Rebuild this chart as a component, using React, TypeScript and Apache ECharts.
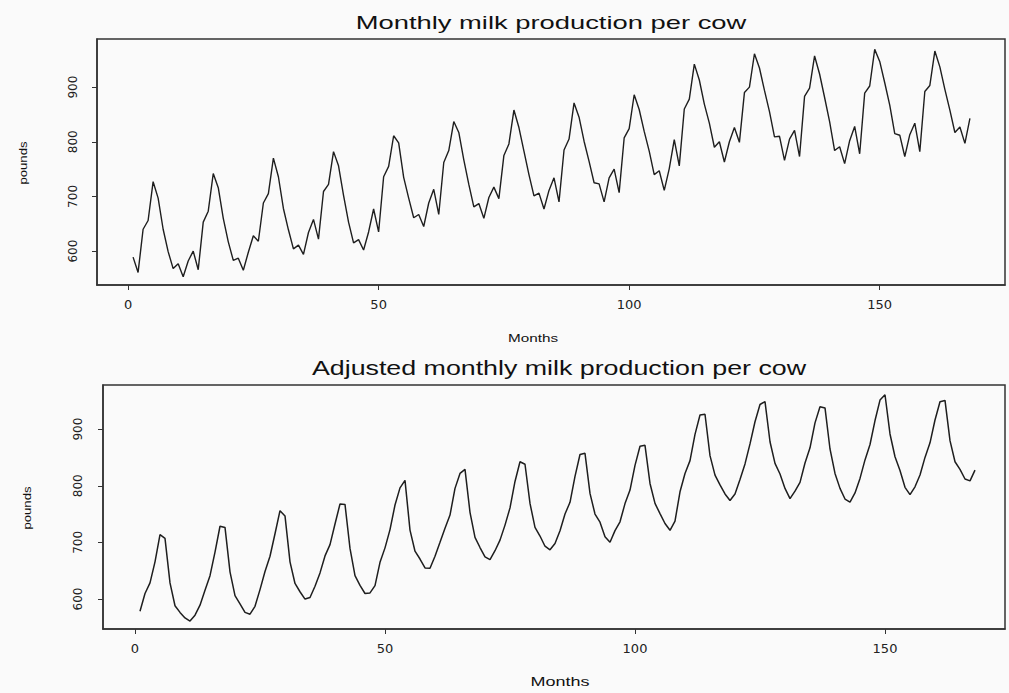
import React, { useEffect, useRef } from "react";
import * as echarts from "echarts";

// Monthly milk production per cow (pounds), months 1..168
const milk: number[] = [
  589, 561, 640, 656, 727, 697, 640, 599, 568, 577, 553, 582,
  600, 566, 653, 673, 742, 716, 660, 617, 583, 587, 565, 598,
  628, 618, 688, 705, 770, 736, 678, 639, 604, 611, 594, 634,
  658, 622, 709, 722, 782, 756, 702, 653, 615, 621, 602, 635,
  677, 635, 736, 755, 811, 798, 735, 697, 661, 667, 645, 688,
  713, 667, 762, 784, 837, 817, 767, 722, 681, 687, 660, 698,
  717, 696, 775, 796, 858, 826, 783, 740, 701, 706, 677, 711,
  734, 690, 785, 805, 871, 845, 801, 764, 725, 723, 690, 734,
  750, 707, 807, 824, 886, 859, 819, 783, 740, 747, 711, 751,
  804, 756, 860, 878, 942, 913, 869, 834, 790, 800, 763, 800,
  826, 799, 890, 900, 961, 935, 894, 855, 809, 810, 766, 805,
  821, 773, 883, 898, 957, 924, 881, 837, 784, 791, 760, 802,
  828, 778, 889, 902, 969, 947, 908, 867, 815, 812, 773, 813,
  834, 782, 892, 903, 966, 937, 896, 858, 817, 827, 797, 843,
];

// Adjusted monthly milk production per cow (pounds)
const adjusted: number[] = [
  578.3, 609.8, 628.4, 665.6, 713.8, 707.2, 628.4, 588.1, 576.3, 566.5, 561.1, 571.4,
  589.1, 615.3, 641.2, 682.8, 728.5, 726.4, 648.0, 605.8, 591.5, 576.3, 573.2, 587.1,
  616.6, 648.6, 675.5, 715.3, 756.0, 746.7, 665.7, 627.4, 612.8, 599.9, 602.7, 622.5,
  646.1, 676.1, 696.1, 732.5, 767.8, 767.0, 689.3, 641.2, 624.0, 609.7, 610.8, 623.5,
  664.7, 690.3, 722.6, 766.0, 796.3, 809.6, 721.7, 684.4, 670.6, 654.9, 654.4, 675.5,
  700.1, 725.1, 748.2, 795.4, 821.8, 828.9, 753.1, 708.9, 690.9, 674.5, 669.6, 685.3,
  704.0, 730.5, 760.9, 807.6, 842.4, 838.0, 768.8, 726.6, 711.2, 693.2, 686.9, 698.1,
  720.7, 750.1, 770.8, 816.7, 855.2, 857.3, 786.5, 750.1, 735.6, 709.9, 700.1, 720.7,
  736.4, 768.5, 792.4, 836.0, 869.9, 871.5, 804.1, 768.8, 750.8, 733.4, 721.4, 737.4,
  789.4, 821.8, 844.4, 890.8, 924.9, 926.3, 853.2, 818.9, 801.5, 785.5, 774.1, 785.5,
  811.0, 838.6, 873.9, 913.1, 943.6, 948.6, 877.8, 839.5, 820.8, 795.3, 777.2, 790.4,
  806.1, 840.3, 867.0, 911.1, 939.6, 937.5, 865.0, 821.8, 795.4, 776.6, 771.1, 787.4,
  813.0, 845.7, 872.9, 915.2, 951.4, 960.8, 891.5, 851.3, 826.9, 797.3, 784.3, 798.2,
  818.9, 850.1, 875.8, 916.2, 948.5, 950.7, 879.7, 842.4, 828.9, 812.0, 808.6, 827.7,
];

const months: number[] = milk.map((_, i) => i + 1);

const xTicks: number[] = [0, 50, 100, 150];
const yTicks: number[] = [600, 700, 800, 900];

const titleTop = "Monthly milk production per cow";
const titleBottom = "Adjusted monthly milk production per cow";
const xName = "Months";
const yName = "pounds";

const INK = "#1e1e1e";
const BG = "#fafafa";

function makeX(gridIndex: number, min: number, max: number) {
  return {
    type: "value",
    gridIndex,
    min,
    max,
    axisLine: { show: true, onZero: false, lineStyle: { color: "#333", width: 1.5 } },
    axisTick: { show: true, length: 5, customValues: xTicks, lineStyle: { color: "#333", width: 1 } },
    axisLabel: {
      customValues: xTicks,
      color: "#222",
      fontFamily: "DejaVu Sans",
      fontSize: 13,
      margin: 13,
    },
    splitLine: { show: false },
  };
}

function makeY(gridIndex: number, min: number, max: number, margin: number) {
  return {
    type: "value",
    gridIndex,
    min,
    max,
    axisLine: { show: true, onZero: false, lineStyle: { color: "#333", width: 1.5 } },
    axisTick: { show: true, length: 5, customValues: yTicks, lineStyle: { color: "#333", width: 1 } },
    axisLabel: {
      customValues: yTicks,
      rotate: 90,
      color: "#222",
      fontFamily: "DejaVu Sans",
      fontSize: 12,
      margin,
    },
    splitLine: { show: false },
  };
}

function label(text: string, x: number, y: number, size: number, scaleX: number, rotation = 0) {
  return {
    type: "text",
    x,
    y,
    rotation,
    scaleX,
    silent: true,
    style: {
      text,
      fill: "#111",
      font: `${size}px "Liberation Sans", Arial, sans-serif`,
      textAlign: "center",
      textVerticalAlign: "middle",
    },
  };
}

export default function App() {
  const ref = useRef<HTMLDivElement>(null);

  useEffect(() => {
    if (!ref.current) return;
    const chart = echarts.init(ref.current, undefined, { renderer: "svg" });
    chart.setOption({
      animation: false,
      backgroundColor: BG,
      grid: [
        { left: 97, top: 39, width: 908, height: 246, show: true, borderColor: "#333", borderWidth: 1.5, backgroundColor: "transparent" },
        { left: 103, top: 385, width: 902, height: 244, show: true, borderColor: "#333", borderWidth: 1.5, backgroundColor: "transparent" },
      ],
      xAxis: [makeX(0, -6.2, 175), makeX(1, -6.4, 174)],
      yAxis: [makeY(0, 538, 988, 18), makeY(1, 547, 978, 19)],
      series: [
        {
          type: "line",
          xAxisIndex: 0,
          yAxisIndex: 0,
          data: months.map((m, i) => [m, milk[i]]),
          showSymbol: false,
          lineStyle: { color: INK, width: 1.4 },
          silent: true,
        },
        {
          type: "line",
          xAxisIndex: 1,
          yAxisIndex: 1,
          data: months.map((m, i) => [m, adjusted[i]]),
          showSymbol: false,
          lineStyle: { color: INK, width: 1.5 },
          silent: true,
        },
      ],
      graphic: [
        label(titleTop, 551, 23, 18, 1.52),
        label(titleBottom, 559, 368, 20, 1.34),
        label(xName, 533, 338, 11, 1.39),
        label(xName, 560, 682, 12, 1.5),
        label(yName, 23, 163, 11, 1.19, Math.PI / 2),
        label(yName, 27, 508, 11, 1.19, Math.PI / 2),
      ],
    });
    return () => chart.dispose();
  }, []);

  return (
    <div style={{ position: "fixed", left: 0, top: 0, width: 1009, height: 693, background: BG }}>
      <div ref={ref} style={{ width: 1009, height: 693 }} />
    </div>
  );
}
